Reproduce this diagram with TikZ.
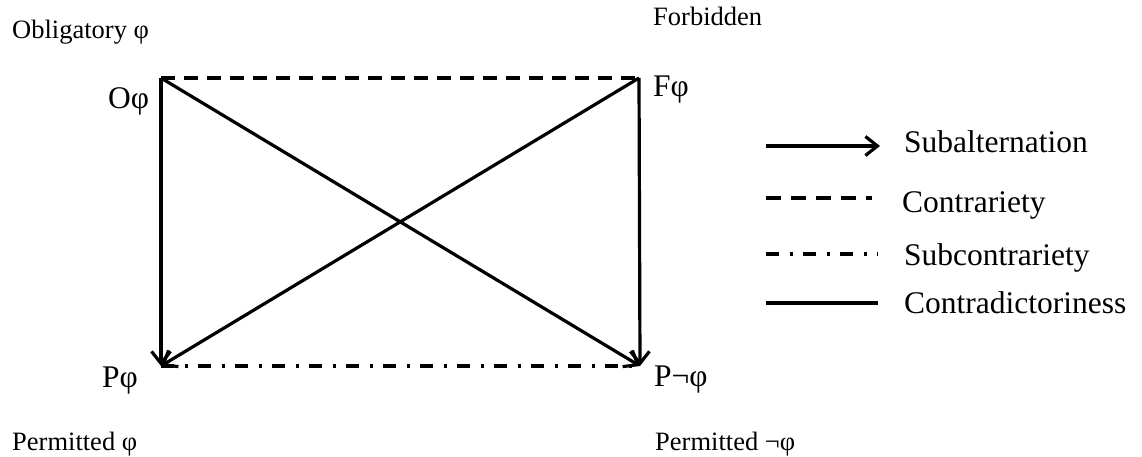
\documentclass[tikz,border=0pt]{standalone}
\usepackage{fontspec}
\setmainfont{Liberation Serif}
\usetikzlibrary{arrows.meta}
\begin{document}
\begin{tikzpicture}[x=1pt,y=-1pt,
  ln/.style={line width=3.2pt},
  arr/.style={ln,-{Straight Barb[length=12pt,width=19pt]}},
  contrary/.style={ln,dash pattern=on 14pt off 9pt},
  subcontrary/.style={ln,dash pattern=on 13pt off 10.5pt on 3pt off 10.5pt},
  big/.style={font=\fontsize{31.5}{36}\selectfont,inner sep=0pt,anchor=base west},
  small/.style={font=\fontsize{26.5}{30}\selectfont,inner sep=0pt,anchor=base west}]
\useasboundingbox (0,0) rectangle (1142,457);
% corners
\coordinate (TL) at (161,78);
\coordinate (TR) at (639,78);
\coordinate (BL) at (161,366);
\coordinate (BR) at (640,366);
% labels
\node[small] (obl) at (12,39) {Obligatory φ};
\node[small] (forb) at (653,26) {Forbidden};
\node[big] (O) at (108,109) {Oφ};
\node[big] (F) at (653,97) {Fφ};
\node[big] (P) at (102,387) {Pφ};
\node[big] (Pn) at (654,386) {P¬φ};
\node[small] (perm) at (12,450) {Permitted φ};
\node[small] (permn) at (655,450) {Permitted ¬φ};
% square
\draw[contrary] (TL) -- (TR);
\draw[subcontrary] (BL) -- (BR);
\draw[arr] (TL) -- (BL);
\draw[arr] (TR) -- (BR);
\draw[arr] (TL) -- (BR);
\draw[arr] (TR) -- (BL);
% legend
\coordinate (l1a) at (766,146); \coordinate (l1b) at (880,146);
\coordinate (l2a) at (766,198); \coordinate (l2b) at (872,198);
\coordinate (l3a) at (766,254); \coordinate (l3b) at (878,254);
\coordinate (l4a) at (766,303); \coordinate (l4b) at (878,303);
\draw[arr] (l1a) -- (l1b);
\draw[contrary,dash pattern=on 15pt off 10pt] (l2a) -- (l2b);
\draw[subcontrary] (l3a) -- (l3b);
\draw[ln] (l4a) -- (l4b);
\node[big] (t1) at (904,153) {Subalternation};
\node[big] (t2) at (902,212) {Contrariety};
\node[big] (t3) at (904,265) {Subcontrariety};
\node[big] (t4) at (904,313) {Contradictoriness};
\end{tikzpicture}
\end{document}
